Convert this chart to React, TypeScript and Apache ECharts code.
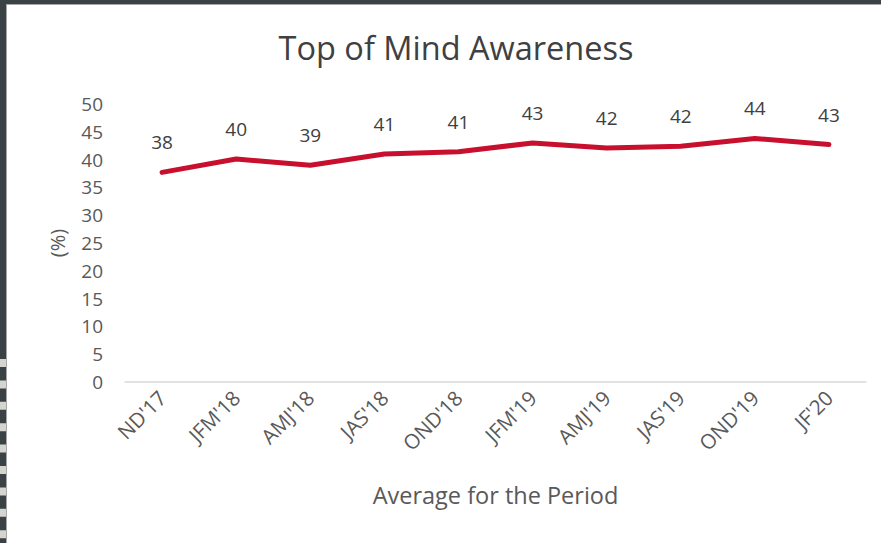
import React, { useEffect, useRef } from "react";
import * as echarts from "echarts";

const categories = ["ND'17", "JFM'18", "AMJ'18", "JAS'18", "OND'18", "JFM'19", "AMJ'19", "JAS'19", "OND'19", "JF'20"];
const awareness = [37.7, 40.1, 39.0, 41.0, 41.4, 43.0, 42.1, 42.4, 43.8, 42.7];
const yTicks = { min: 0, max: 50, interval: 5 };

export default function App() {
  const ref = useRef<HTMLDivElement>(null);
  useEffect(() => {
    document.body.style.margin = "0";
    const chart = echarts.init(ref.current!, null, { renderer: "svg" });
    const font = "'Open Sans', sans-serif";
    chart.setOption({
      animation: false,
      backgroundColor: "#ffffff",
      title: {
        text: "Top of Mind Awareness",
        left: 451,
        top: 26,
        textAlign: "center",
        textStyle: { fontFamily: font, fontSize: 32.5, fontWeight: "normal", color: "#404040" },
      },
      grid: { left: 125, right: 15, top: 104, bottom: 161 },
      xAxis: {
        type: "category",
        data: categories,
        boundaryGap: true,
        axisLine: { lineStyle: { color: "#d9d9d9", width: 1.5 } },
        axisTick: { show: false },
        axisLabel: { rotate: 45, fontFamily: font, fontSize: 20.5, color: "#595959", margin: 12 },
        name: "Average for the Period",
        nameLocation: "middle",
        nameGap: 101,
        nameTextStyle: { fontFamily: font, fontSize: 23.5, color: "#595959" },
      },
      yAxis: {
        type: "value",
        min: yTicks.min,
        max: yTicks.max,
        interval: yTicks.interval,
        axisLine: { show: false },
        axisTick: { show: false },
        splitLine: { show: false },
        axisLabel: { fontFamily: font, fontSize: 19, color: "#595959", margin: 22 },
        name: "(%)",
        nameLocation: "middle",
        nameGap: 58,
        nameRotate: 90,
        nameTextStyle: { fontFamily: font, fontSize: 20, color: "#595959" },
      },
      series: [
        {
          type: "line",
          data: awareness,
          showSymbol: true,
          symbol: "circle",
          symbolSize: 1,
          itemStyle: { color: "#C8102E" },
          lineStyle: { color: "#C8102E", width: 5, cap: "round", join: "round" },
          label: {
            show: true,
            position: "top",
            distance: 20,
            formatter: (p: any) => String(Math.round(p.value)),
            fontFamily: font,
            fontSize: 19,
            color: "#404040",
          },
        },
      ],
      graphic: [
        { type: "rect", left: 0, top: 0, shape: { width: 881, height: 4 }, style: { fill: "#3a4246" }, silent: true },
        { type: "rect", left: 0, top: 4, shape: { width: 881, height: 1 }, style: { fill: "#a6a6a6" }, silent: true },
        { type: "rect", left: 0, top: 0, shape: { width: 6, height: 543 }, style: { fill: "#3a4246" }, silent: true },
        { type: "rect", left: 6, top: 5, shape: { width: 1, height: 538 }, style: { fill: "#a6a6a6" }, silent: true },
        {
          type: "line",
          shape: { x1: 3, y1: 359, x2: 3, y2: 543 },
          style: { stroke: "#d4d4d0", lineWidth: 6, lineDash: [8, 13.4] },
          silent: true,
        },
      ],
    });
    return () => chart.dispose();
  }, []);
  return <div ref={ref} style={{ width: 881, height: 543 }} />;
}
